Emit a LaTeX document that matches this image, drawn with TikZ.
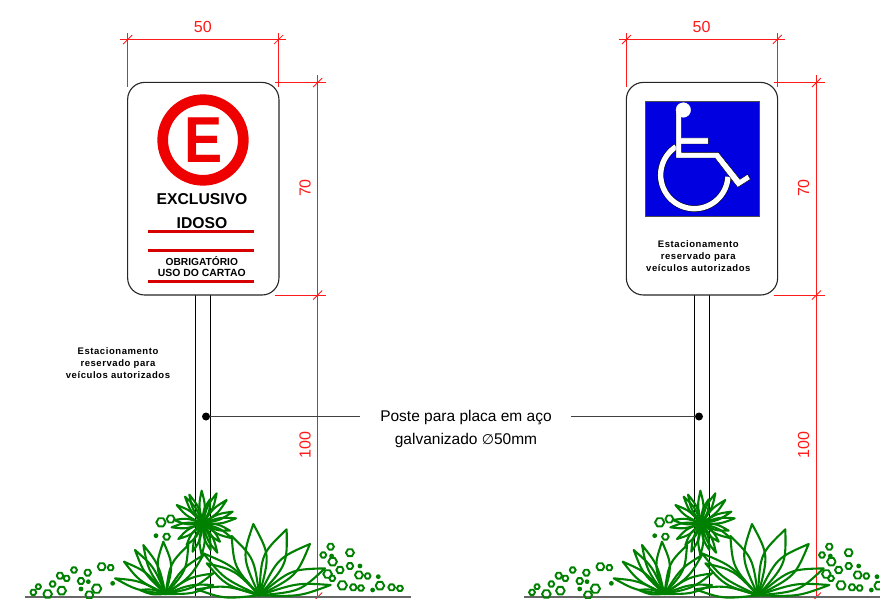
\documentclass[tikz,border=0pt]{standalone}
\usepackage{fontspec}
\setmainfont{Liberation Sans}
\newfontfamily\spacedbold[LetterSpace=6,BoldFont={Liberation Sans Bold}]{Liberation Sans Bold}
\newfontfamily\symfont{DejaVu Sans}
\usetikzlibrary{calc}
\definecolor{signred}{RGB}{238,0,0}
\definecolor{linered}{RGB}{215,0,0}
\definecolor{signblue}{RGB}{0,0,225}
\definecolor{plantgreen}{RGB}{0,128,0}
\tikzset{
  dimline/.style={red!90!white,line width=0.85pt},
  dimlabel/.style={red!90!white,inner sep=0pt,font=\fontsize{16}{16}\selectfont},
  signplate/.style={draw=black!85,line width=1.1pt,rounded corners=17pt,fill=white},
  postline/.style={black,line width=1pt},
  groundline/.style={black!60,line width=2pt},
  redbar/.style={linered,line width=2.8pt},
  smalltext/.style={inner sep=0pt,align=center,font=\fontsize{9.5}{12}\spacedbold},
  leafline/.style={plantgreen,line width=2.1pt,line cap=round,line join=round},
  bulb/.style={plantgreen,line width=1.9pt,line join=round},
  leader/.style={black!75,line width=0.9pt},
  leaderdot/.style={circle,fill=black,inner sep=0pt,minimum size=8pt},
  postlabel/.style={inner sep=0pt,font=\fontsize{15.5}{16}\selectfont},
}
% leaf: base x,y ; tip x,y ; half width
\newcommand\leafshape[5]{%
  \draw[leafline] (#1,#2) .. controls ($(#1,#2)!0.55!(#3,#4)!#5pt!90:(#3,#4)$) .. (#3,#4)
     .. controls ($(#1,#2)!0.55!(#3,#4)!#5pt!-90:(#3,#4)$) .. (#1,#2);}
\newcommand\plantscene{%
  \begin{scope}[shift={(0,470)},x=0.3333pt,y=-0.3333pt]
    % star plant
    \foreach \tx/\ty in {605/62,650/70,680/90,698/125,708/145,690/182,697/205,652/248,632/240,605/255,578/245,535/207,515/172,522/150,530/105,555/80,568/74,630/88,660/215,560/225}
      {\leafshape{608}{160}{\tx}{\ty}{3.5}}
    % left plant
    \foreach \tx/\ty/\w in {405/240/6,430/225/6,490/215/9,565/225/9,372/275/6,345/325/5,640/310/6,640/345/5,420/360/3,610/255/6}
      {\leafshape{497}{372}{\tx}{\ty}{\w}}
    % right plant
    \foreach \tx/\ty/\w in {695/198/11,620/280/9,760/162/14,860/178/14,930/222/13,975/295/12,992/345/7,590/358/7,610/250/8}
      {\leafshape{778}{376}{\tx}{\ty}{\w}}
    % small bulbs
    \foreach \bx/\by/\br in {100/367/9,115/350/8,143/372/13,158/342/9,180/317/10,200/325/9,185/362/13,222/300/9,243/333/10,263/308/10,290/356/14,268/375/12,305/290/12,332/293/9,483/157/14,512/147/12,500/200/10,992/230/10,970/255/9,1050/248/12,998/275/13,1020/300/11,1050/288/10,983/312/13,997/325/9,1077/315/12,1103/318/9,1027/346/14,1060/352/10,1083/354/9,1140/347/13,1175/352/10,1200/355/9}
      {\draw[bulb] plot[domain=0:300,samples=6] ({\bx+\br*cos(\x)},{\by+\br*sin(\x)}) -- cycle;}
    \foreach \bx/\by in {243/357,265/335,468/197,1080/288,1135/320,1118/360,338/340,995/258}
      {\fill[plantgreen] (\bx,\by) circle[radius=2.4pt];}
  \end{scope}}
% shared drawing: #1 = name prefix
\newcommand\signbase[1]{%
  % post
  \coordinate (#1pa) at (195.6,294); \coordinate (#1pb) at (195.6,597);
  \coordinate (#1pc) at (210.6,294); \coordinate (#1pd) at (210.6,597);
  \draw[postline] (#1pa) -- (#1pb);
  \draw[postline] (#1pc) -- (#1pd);
  % plate
  \node[signplate,minimum width=151.3pt,minimum height=212.6pt,inner sep=0pt] (#1plate) at (203.3,188.7) {};
  % dimensions
  \coordinate (#1w1) at (127.7,33); \coordinate (#1w2) at (127.7,87);
  \coordinate (#1w3) at (278.6,33); \coordinate (#1w4) at (278.6,87);
  \coordinate (#1w5) at (120,39.5); \coordinate (#1w6) at (286,39.5);
  \draw[dimline] (#1w1) -- (#1w2);
  \draw[dimline] (#1w3) -- (#1w4);
  \draw[dimline] (#1w5) -- (#1w6);
  \coordinate (#1h1) at (317.7,75); \coordinate (#1h2) at (317.7,598);
  \coordinate (#1h3) at (275,82.6); \coordinate (#1h4) at (326,82.6);
  \coordinate (#1h5) at (275,295); \coordinate (#1h6) at (326,295);
  \draw[dimline] (#1h1) -- (#1h2);
  \draw[dimline] (#1h3) -- (#1h4);
  \draw[dimline] (#1h5) -- (#1h6);
  \foreach \cx/\cy in {127.7/39.5,278.6/39.5,317.7/82.6,317.7/295,317.7/597}
    {\draw[dimline] (\cx-4.5,\cy+4.5) -- (\cx+4.5,\cy-4.5);}
  \node[dimlabel] (#1d50) at (202.8,26.8) {50};
  \node[dimlabel,rotate=90] (#1d70) at (305,188) {70};
  \node[dimlabel,rotate=90] (#1d100) at (305,445) {100};
  % ground
  \coordinate (#1g1) at (25,596.8); \coordinate (#1g2) at (411,596.8);
  \draw[groundline] (#1g1) -- (#1g2);
  \plantscene}
\begin{document}
\begin{tikzpicture}[x=1pt,y=-1pt]
  \clip (0,0) rectangle (880,598);
  \fill[white] (0,0) rectangle (880,598);
  %%% left
  \signbase{a}
  \draw[signred,line width=10.7pt] (203,140) circle[radius=40.3pt];
  \node[signred,inner sep=0pt,xscale=0.88,font=\fontsize{65}{65}\bfseries] (bigE) at (203.5,140) {E};
  \node[inner sep=0pt,font=\fontsize{15.7}{16}\bfseries] (excl) at (202,199) {EXCLUSIVO};
  \node[inner sep=0pt,font=\fontsize{15.7}{16}\bfseries] (idoso) at (202,222.6) {IDOSO};
  \coordinate (r1a) at (148,231.3); \coordinate (r1b) at (254,231.3);
  \coordinate (r2a) at (148,250.8); \coordinate (r2b) at (254,250.8);
  \coordinate (r3a) at (148,281.7); \coordinate (r3b) at (254,281.7);
  \draw[redbar] (r1a) -- (r1b);
  \draw[redbar] (r2a) -- (r2b);
  \draw[redbar] (r3a) -- (r3b);
  \node[inner sep=0pt,font=\fontsize{10.2}{12}\bfseries] (obrig) at (201.8,260.7) {OBRIGATÓRIO};
  \node[inner sep=0pt,font=\fontsize{10.4}{12}\bfseries] (uso) at (201.8,272.8) {USO DO CARTAO};
  \node[smalltext] (lefttext) at (118,363) {Estacionamento\\reservado para\\veículos autorizados};
  %%% right
  \begin{scope}[xshift=498.7pt]
    \signbase{b}
  \end{scope}
  \fill[signblue,draw=black!70,line width=0.4pt] (645,100.7) rectangle (759.5,216);
  \begin{scope}[shift={(600,10)},x=0.3333pt,y=-0.3333pt]
    \draw[black,line width=0.5pt,double=white,double distance=5.4pt,domain=237:3,samples=50,smooth]
       plot ({283+101*cos(\x)},{495+101*sin(\x)});
    \filldraw[fill=white,draw=black,line width=0.4pt]
      (245,320) -- (245,384) -- (325,384) -- (325,402) -- (245,402) -- (245,427) -- (355,427)
      -- (420,508) -- (443,493) -- (451,508) -- (413,532) -- (345,444) -- (228,444) -- (228,300) -- cycle;
    \filldraw[fill=white,draw=white,line width=0.4pt] (250,300) circle[radius=7.3pt];
  \end{scope}
  \node[smalltext] (righttext) at (698.3,256) {Estacionamento\\reservado para\\veículos autorizados};
  %%% central label and leaders
  \node[leaderdot] (dotL) at (206,416.5) {};
  \node[leaderdot] (dotR) at (699,416.5) {};
  \node[postlabel] (poste1) at (466,418) {Poste para placa em aço};
  \node[postlabel] (poste2) at (466,440) {galvanizado {\symfont\fontsize{14}{16}\selectfont ∅}50mm};
  \coordinate (leadL) at ($(poste1.west |- dotL)+(-20,0)$);
  \coordinate (leadR) at ($(poste1.east |- dotR)+(19,0)$);
  \draw[leader] (dotL) -- (leadL);
  \draw[leader] (leadR) -- (dotR);
\end{tikzpicture}
\end{document}
